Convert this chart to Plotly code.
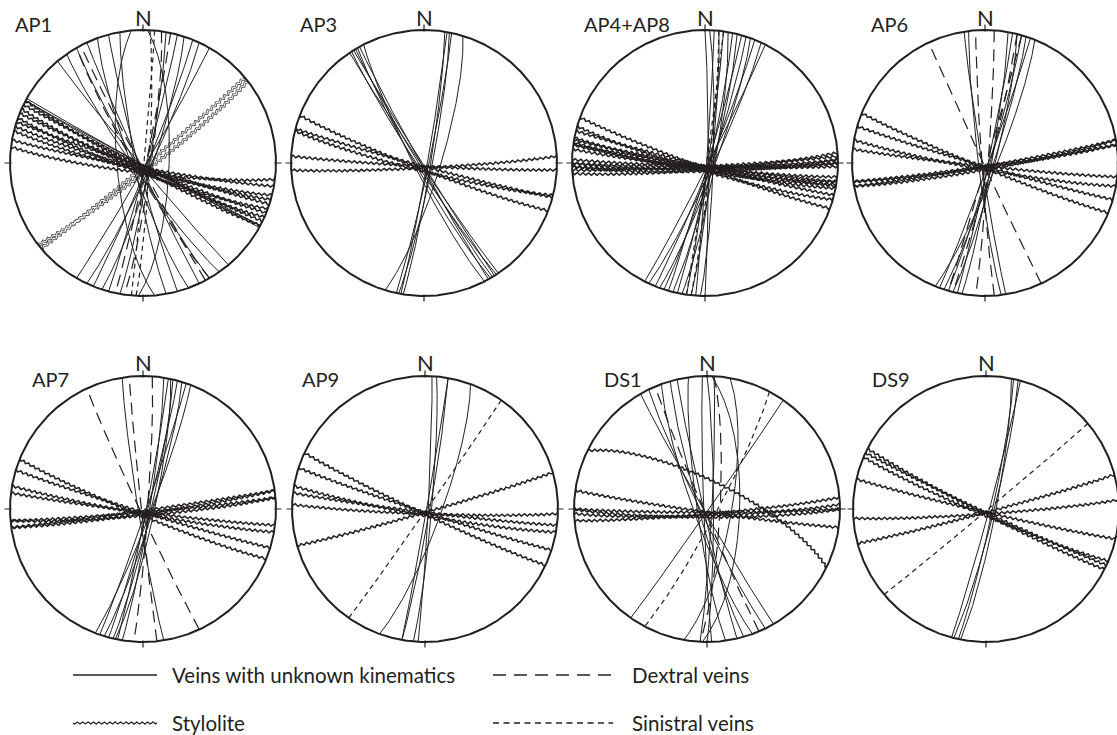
import numpy as np
import plotly.graph_objects as go

# ---------------- data: (strike, dip) right-hand rule ----------------
NET_NAMES = ["AP1", "AP3", "AP4+AP8", "AP6", "AP7", "AP9", "DS1", "DS9"]

AP1_VEINS = [(140, 88), (145, 84), (150, 86), (155, 88), (160, 83), (165, 87), (170, 85),
             (175, 74), (2, 74), (10, 86), (15, 88), (18, 84), (22, 87), (25, 85), (30, 88),
             (118, 89), (118, 88), (119, 89)]
AP1_DEXTRAL = [(150, 85), (152, 88), (8, 85), (12, 88)]
AP1_SINISTRAL = [(5, 89), (3, 86)]
AP1_STYLOLITES = [(118, 86), (116, 88), (114, 85), (112, 87), (110, 84), (108, 88),
                  (106, 86), (104, 85), (100, 87), (97, 84)]
AP1_STYLOLITES_OPEN = [(50, 88), (52, 85)]

AP3_VEINS = [(146, 88), (147, 86), (148, 89), (149, 87), (150, 85), (151, 88), (153, 84),
             (9, 86), (10, 88), (11, 85), (12, 87), (17, 80)]
AP3_DEXTRAL = []
AP3_SINISTRAL = []
AP3_STYLOLITES = [(111, 86), (105, 88), (104, 85), (93, 88), (87, 87)]
AP3_STYLOLITES_OPEN = []

AP48_VEINS = [(0, 88), (2, 85), (4, 89), (6, 86), (8, 88), (10, 84), (12, 87), (14, 85),
              (16, 88), (18, 86), (20, 84), (22, 87), (25, 85), (27, 88)]
AP48_DEXTRAL = []
AP48_SINISTRAL = [(8, 89), (6, 87)]
AP48_STYLOLITES = [(110, 87), (106, 85), (104, 88), (101, 86), (100, 88), (99, 85),
                   (96, 87), (98, 88), (98, 86), (91.5, 88), (90, 86), (90, 88),
                   (88.5, 85), (88.5, 87), (87, 88), (85.5, 86)]
AP48_STYLOLITES_OPEN = []

AP6_VEINS = [(10, 86), (12, 88), (14, 84), (16, 87), (18, 85), (20, 88), (22, 83),
             (171, 88), (173, 86)]
AP6_DEXTRAL = [(155, 89), (176, 88), (4, 88), (14, 87), (16, 89)]
AP6_SINISTRAL = []
AP6_STYLOLITES = [(112, 87), (106, 88), (100, 86), (96, 88), (82, 87), (82, 88), (80, 86), (80, 88)]
AP6_STYLOLITES_OPEN = []

AP7_VEINS = [(9, 86), (11, 88), (13, 85), (15, 87), (17, 84), (19, 88), (21, 85), (12, 83),
             (171, 87)]
AP7_DEXTRAL = [(155, 88), (174, 89), (4, 87)]
AP7_SINISTRAL = []
AP7_STYLOLITES = [(112, 86), (107, 88), (100, 87), (97, 88), (85, 88), (85, 86), (82, 87), (82, 89)]
AP7_STYLOLITES_OPEN = []

AP9_VEINS = [(3, 88), (5, 86), (10, 89), (10, 87), (20, 80)]
AP9_DEXTRAL = []
AP9_SINISTRAL = [(35, 89)]
AP9_STYLOLITES = [(115, 87), (108, 88), (100, 86), (97, 88), (92, 87), (74, 88)]
AP9_STYLOLITES_OPEN = []

DS1_VEINS = [(150, 88), (154, 86), (164, 85), (167, 88), (178, 88), (0, 86), (3, 87),
             (10, 75), (2, 70), (35, 89), (160, 82), (172, 84)]
DS1_DEXTRAL = [(157, 88), (3, 82)]
DS1_SINISTRAL = [(28, 84)]
DS1_STYLOLITES = [(296, 73), (98, 88), (90, 88), (88, 86), (85, 87), (90, 85)]
DS1_STYLOLITES_OPEN = []

DS9_VEINS = [(11, 84), (12, 86), (14, 85), (15, 88)]
DS9_DEXTRAL = []
DS9_SINISTRAL = [(50, 89)]
DS9_STYLOLITES = [(113, 86), (115, 88), (117, 87), (103, 88), (86, 87), (75, 88)]
DS9_STYLOLITES_OPEN = []

VEINS = [AP1_VEINS, AP3_VEINS, AP48_VEINS, AP6_VEINS, AP7_VEINS, AP9_VEINS, DS1_VEINS, DS9_VEINS]
DEXTRAL = [AP1_DEXTRAL, AP3_DEXTRAL, AP48_DEXTRAL, AP6_DEXTRAL, AP7_DEXTRAL, AP9_DEXTRAL, DS1_DEXTRAL, DS9_DEXTRAL]
SINISTRAL = [AP1_SINISTRAL, AP3_SINISTRAL, AP48_SINISTRAL, AP6_SINISTRAL, AP7_SINISTRAL, AP9_SINISTRAL, DS1_SINISTRAL, DS9_SINISTRAL]
STYLOLITES = [AP1_STYLOLITES, AP3_STYLOLITES, AP48_STYLOLITES, AP6_STYLOLITES, AP7_STYLOLITES, AP9_STYLOLITES, DS1_STYLOLITES, DS9_STYLOLITES]
STYLOLITES_OPEN = [AP1_STYLOLITES_OPEN, AP3_STYLOLITES_OPEN, AP48_STYLOLITES_OPEN, AP6_STYLOLITES_OPEN,
                   AP7_STYLOLITES_OPEN, AP9_STYLOLITES_OPEN, DS1_STYLOLITES_OPEN, DS9_STYLOLITES_OPEN]

LEGEND_LABELS = ["Veins with unknown kinematics", "Dextral veins", "Stylolite", "Sinistral veins"]

# ---------------- layout constants ----------------
W, H = 1117, 735
R = 133.0
CX = [143, 424, 705, 985, 143, 425, 707, 986]
CY = [163, 163, 163, 163, 509, 509, 509, 509]
LABEL_X = [13, 298, 582, 869, 30, 300, 602, 870]
LABEL_Y = [24, 24, 24, 24, 379, 379, 379, 379]
N_Y = [18, 18, 18, 18, 362, 362, 362, 362]
INK = "#231f20"
FONT = "Lato"
WAVE_AMP = 1.2
WAVE_LEN = 5.6


def great_circle(strike, dip, n=721):
    s = np.radians(strike)
    d = np.radians(dip)
    t = np.linspace(0, np.pi, n)
    ax_, ay_ = np.sin(s), np.cos(s)
    dd = s + np.pi / 2
    bx, by, bz = np.sin(dd) * np.cos(d), np.cos(dd) * np.cos(d), -np.sin(d)
    vx = np.cos(t) * ax_ + np.sin(t) * bx
    vy = np.cos(t) * ay_ + np.sin(t) * by
    vz = np.sin(t) * bz
    plunge = np.arcsin(np.clip(-vz, -1, 1))
    trend = np.arctan2(vx, vy)
    r = np.sqrt(2) * np.sin((np.pi / 2 - plunge) / 2)
    return r * np.sin(trend), r * np.cos(trend)


def make_wavy(x, y, amp_px=WAVE_AMP, wl_px=WAVE_LEN, phase=0.0):
    X, Y = x * R, y * R
    seg = np.hypot(np.diff(X), np.diff(Y))
    s = np.concatenate([[0], np.cumsum(seg)])
    su = np.arange(0, s[-1], 0.35)
    Xu = np.interp(su, s, X)
    Yu = np.interp(su, s, Y)
    dx = np.gradient(Xu)
    dy = np.gradient(Yu)
    nrm = np.hypot(dx, dy)
    nrm[nrm == 0] = 1
    nx, ny = -dy / nrm, dx / nrm
    off = amp_px * np.sin(2 * np.pi * su / wl_px + phase)
    return (Xu + nx * off) / R, (Yu + ny * off) / R


def collect(planes, wavy=False):
    xs, ys = [], []
    for j, (st, dp) in enumerate(planes):
        x, y = great_circle(st, dp)
        if wavy:
            x, y = make_wavy(x, y, phase=1.3 * j)
        xs.extend(x.tolist() + [None])
        ys.extend(y.tolist() + [None])
    return xs, ys


fig = go.Figure()
layout_axes = {}
M = 1.08

for i in range(8):
    k = i + 1
    xa = "x" if k == 1 else f"x{k}"
    ya = "y" if k == 1 else f"y{k}"
    cx, cy = CX[i], CY[i]
    left_px = max(0, cx - M * R)
    right_px = min(W, cx + M * R)
    top_px = max(0, cy - M * R)
    bot_px = min(H, cy + M * R)
    xr = [(left_px - cx) / R, (right_px - cx) / R]
    yr = [(cy - bot_px) / R, (cy - top_px) / R]
    layout_axes["xaxis" if k == 1 else f"xaxis{k}"] = dict(
        domain=[left_px / W, right_px / W], range=xr, visible=False, fixedrange=True,
        anchor=ya)
    layout_axes["yaxis" if k == 1 else f"yaxis{k}"] = dict(
        domain=[1 - bot_px / H, 1 - top_px / H], range=yr, visible=False, fixedrange=True,
        anchor=xa)

    # open (double) stylolites
    if STYLOLITES_OPEN[i]:
        x, y = collect(STYLOLITES_OPEN[i], wavy=True)
        fig.add_trace(go.Scatter(x=x, y=y, mode="lines", xaxis=xa, yaxis=ya,
                                 line=dict(color="#3a3a3a", width=2.4), hoverinfo="skip"))
        fig.add_trace(go.Scatter(x=x, y=y, mode="lines", xaxis=xa, yaxis=ya,
                                 line=dict(color="white", width=1.0), hoverinfo="skip"))
    # stylolites
    if STYLOLITES[i]:
        x, y = collect(STYLOLITES[i], wavy=True)
        fig.add_trace(go.Scatter(x=x, y=y, mode="lines", xaxis=xa, yaxis=ya,
                                 line=dict(color=INK, width=1.5), hoverinfo="skip"))
    # veins
    if VEINS[i]:
        x, y = collect(VEINS[i])
        fig.add_trace(go.Scatter(x=x, y=y, mode="lines", xaxis=xa, yaxis=ya,
                                 line=dict(color=INK, width=1.0), hoverinfo="skip"))
    if DEXTRAL[i]:
        for st, dp in DEXTRAL[i]:
            x, y = great_circle(st, dp)
            fig.add_trace(go.Scatter(x=x, y=y, mode="lines", xaxis=xa, yaxis=ya,
                                     line=dict(color=INK, width=1.2, dash="12px,7px"),
                                     hoverinfo="skip"))
    if SINISTRAL[i]:
        for st, dp in SINISTRAL[i]:
            x, y = great_circle(st, dp)
            fig.add_trace(go.Scatter(x=x, y=y, mode="lines", xaxis=xa, yaxis=ya,
                                     line=dict(color=INK, width=1.2, dash="5px,4px"),
                                     hoverinfo="skip"))
    # primitive circle
    th = np.linspace(0, 2 * np.pi, 721)
    fig.add_trace(go.Scatter(x=np.sin(th), y=np.cos(th), mode="lines", xaxis=xa, yaxis=ya,
                             line=dict(color=INK, width=2.0), hoverinfo="skip"))
    # cardinal ticks
    a, b = 1 - 1.5 / R, 1 + 5.5 / R
    tx = [0, 0, None, 0, 0, None, a, b, None, -a, -b]
    ty = [a, b, None, -a, -b, None, 0, 0, None, 0, 0]
    fig.add_trace(go.Scatter(x=tx, y=ty, mode="lines", xaxis=xa, yaxis=ya,
                             line=dict(color=INK, width=1.2), hoverinfo="skip"))

annotations = []
for i in range(8):
    annotations.append(dict(x=LABEL_X[i] / W, y=1 - LABEL_Y[i] / H, xref="paper", yref="paper",
                            text=NET_NAMES[i], showarrow=False, xanchor="left", yanchor="middle",
                            font=dict(family=FONT, size=20, color=INK)))
    annotations.append(dict(x=CX[i] / W, y=1 - N_Y[i] / H, xref="paper", yref="paper",
                            text="N", showarrow=False, xanchor="center", yanchor="middle",
                            font=dict(family=FONT, size=22, color=INK)))

# ---------------- legend (drawn in its own pixel-scaled axis) ----------------
layout_axes["xaxis9"] = dict(domain=[0, 1], range=[0, W], visible=False, fixedrange=True, anchor="y9")
layout_axes["yaxis9"] = dict(domain=[0, 1], range=[H, 0], visible=False, fixedrange=True, anchor="x9")

ROW1, ROW2 = 675, 723
fig.add_trace(go.Scatter(x=[73, 157], y=[ROW1, ROW1], mode="lines", xaxis="x9", yaxis="y9",
                         line=dict(color=INK, width=1.3), hoverinfo="skip"))
wx = np.arange(73, 157.01, 0.35)
wy = ROW2 + 1.1 * np.sin(2 * np.pi * (wx - 73) / 5.4)
fig.add_trace(go.Scatter(x=wx, y=wy, mode="lines", xaxis="x9", yaxis="y9",
                         line=dict(color=INK, width=1.2), hoverinfo="skip"))
fig.add_trace(go.Scatter(x=[493, 613], y=[ROW1, ROW1], mode="lines", xaxis="x9", yaxis="y9",
                         line=dict(color=INK, width=1.3, dash="13px,8px"), hoverinfo="skip"))
fig.add_trace(go.Scatter(x=[493, 613], y=[ROW2, ROW2], mode="lines", xaxis="x9", yaxis="y9",
                         line=dict(color=INK, width=1.3, dash="6px,4.5px"), hoverinfo="skip"))
for txt, xx, yy in [(LEGEND_LABELS[0], 170, ROW1), (LEGEND_LABELS[1], 630, ROW1),
                    (LEGEND_LABELS[2], 170, ROW2), (LEGEND_LABELS[3], 630, ROW2)]:
    annotations.append(dict(x=xx / W, y=1 - yy / H, xref="paper", yref="paper", text=txt,
                            showarrow=False, xanchor="left", yanchor="middle",
                            font=dict(family=FONT, size=20.5, color=INK)))

fig.update_layout(width=W, height=H, margin=dict(l=0, r=0, t=0, b=0),
                  paper_bgcolor="white", plot_bgcolor="rgba(0,0,0,0)", showlegend=False,
                  annotations=annotations, **layout_axes)
fig.write_html("out.html", config={"displayModeBar": False},
               post_script="document.body.style.margin='0px';document.body.style.overflow='hidden';")
